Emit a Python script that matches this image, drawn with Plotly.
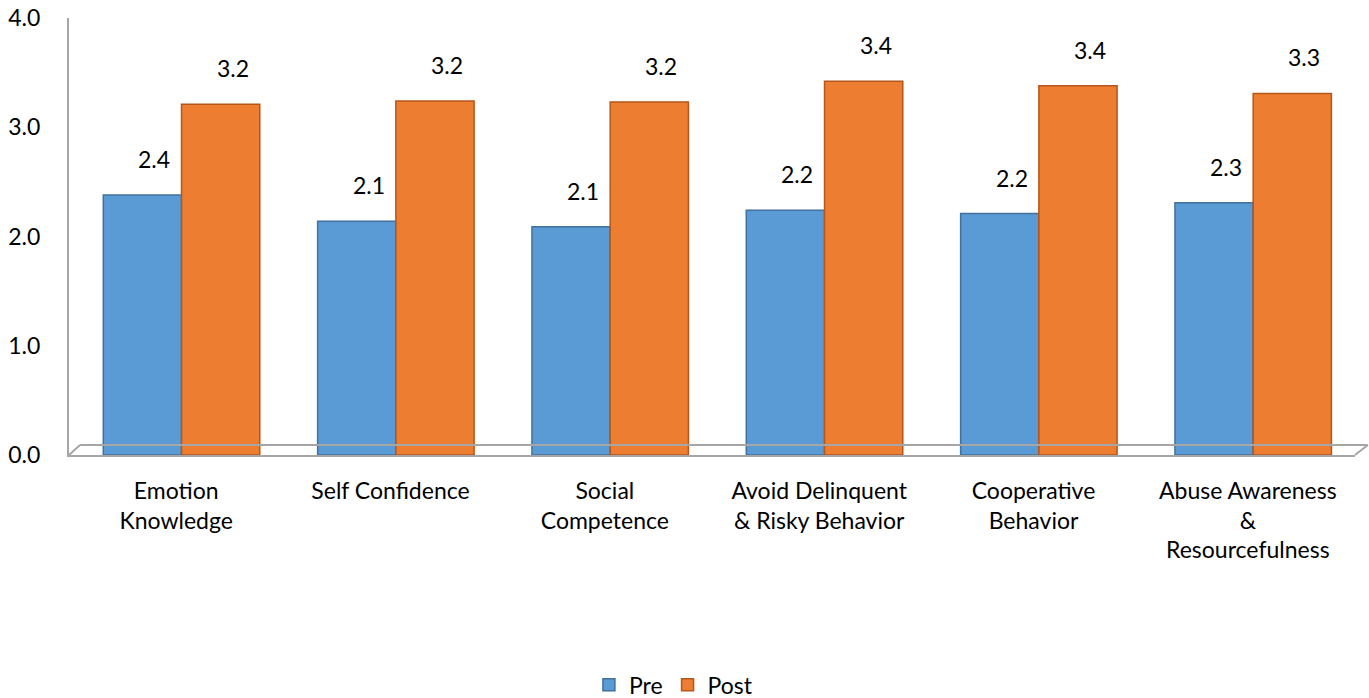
import plotly.graph_objects as go

categories = ["Emotion<br>Knowledge", "Self Confidence", "Social<br>Competence",
              "Avoid Delinquent<br>& Risky Behavior", "Cooperative<br>Behavior",
              "Abuse Awareness<br>&<br>Resourcefulness"]
pre = [2.38, 2.14, 2.09, 2.24, 2.21, 2.31]
post = [3.21, 3.24, 3.23, 3.42, 3.38, 3.31]
y_ticks = [0, 1, 2, 3, 4]
y_tick_labels = ["0.0", "1.0", "2.0", "3.0", "4.0"]

FONT = "Lato, Open Sans, sans-serif"
BW = 0.365
SHIFT = 0.025
xs = list(range(len(categories)))

fig = go.Figure()
fig.add_trace(go.Bar(
    name="Pre", x=xs, y=pre, width=BW, offset=-BW + SHIFT,
    marker=dict(color="#5B9BD5", line=dict(color="#41719C", width=1.5)),
))
fig.add_trace(go.Bar(
    name="Post", x=xs, y=post, width=BW, offset=SHIFT,
    marker=dict(color="#ED7D31", line=dict(color="#B5561A", width=1.5)),
))

for i in xs:
    for val, pos in ((pre[i], i - BW / 2 + SHIFT), (post[i], i + BW / 2 + SHIFT)):
        fig.add_annotation(x=pos, y=val, xref="x", yref="y", text=f"{val:.1f}",
                           showarrow=False, yanchor="bottom", yshift=20, xshift=12,
                           font=dict(size=23, color="black", family=FONT))

fig.update_layout(
    width=1369, height=698,
    barmode="overlay",
    plot_bgcolor="white", paper_bgcolor="white",
    margin=dict(l=69, r=14, t=18, b=243, autoexpand=False),
    font=dict(family=FONT, size=23, color="black"),
    legend=dict(orientation="h", x=0.47, xanchor="center", y=-0.526, yanchor="middle",
                font=dict(size=23), traceorder="normal"),
    xaxis=dict(range=[-0.5, 5.5], tickvals=xs, ticktext=categories,
               showline=True, linecolor="#A6A6A6", linewidth=2, ticks="",
               tickfont=dict(size=23), showgrid=False, zeroline=False,
               ticklabelstandoff=14),
    yaxis=dict(range=[0, 4], tickvals=y_ticks, ticktext=y_tick_labels,
               showline=True, linecolor="#A6A6A6", linewidth=2, showgrid=False,
               zeroline=False, ticks="", ticklabelstandoff=22,
               tickfont=dict(size=23)),
)
# 3D-style floor edges (decorative)
grey = dict(color="#A6A6A6", width=2)
fig.add_shape(type="line", xref="paper", yref="paper", x0=0.0086, x1=1.010, y0=0.023, y1=0.023, line=grey)
fig.add_shape(type="line", xref="paper", yref="paper", x0=0.0, x1=0.0086, y0=0.0, y1=0.023, line=grey)
fig.add_shape(type="line", xref="paper", yref="paper", x0=1.0, x1=1.010, y0=0.0, y1=0.023, line=grey)

fig.write_html("out.html", config={"displayModeBar": False},
               post_script="document.body.style.margin='0px';")
